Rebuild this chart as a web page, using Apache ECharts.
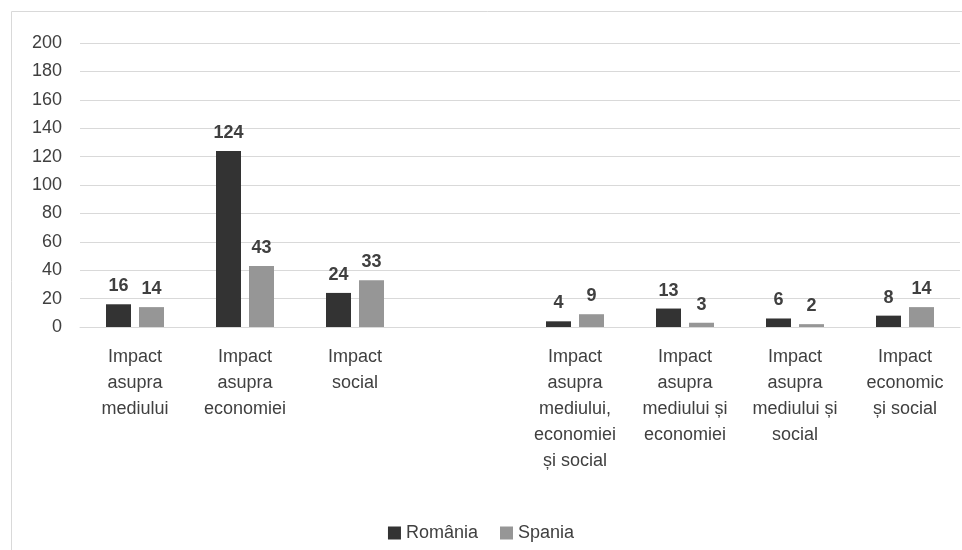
<!DOCTYPE html>
<html><head><meta charset="utf-8">
<script src="https://cdn.jsdelivr.net/npm/echarts@6/dist/echarts.min.js"></script>
<style>html,body{margin:0;padding:0;background:#fff}#c{width:962px;height:550px}</style>
</head><body><div id="c"></div>
<script>
const categories = [
  "Impact\nasupra\nmediului",
  "Impact\nasupra\neconomiei",
  "Impact\nsocial",
  "",
  "Impact\nasupra\nmediului,\neconomiei\nși social",
  "Impact\nasupra\nmediului și\neconomiei",
  "Impact\nasupra\nmediului și\nsocial",
  "Impact\neconomic\nși social"
];
const romania = [16, 124, 24, null, 4, 13, 6, 8];
const spania = [14, 43, 33, null, 9, 3, 2, 14];
const yTicks = { min: 0, max: 200, interval: 20 };

const chart = echarts.init(document.getElementById('c'), null, {renderer: 'canvas'});
const font = 'Liberation Sans, Arial, sans-serif';
const labelStyle = { show: true, position: 'top', distance: 9, fontSize: 18, fontWeight: 'bold', color: '#404040', fontFamily: font };
chart.setOption({
  animation: false,
  textStyle: { fontFamily: font },
  graphic: [{
    type: 'rect', shape: { x: 11.5, y: 11.5, width: 1000, height: 600 },
    style: { fill: 'none', stroke: '#d9d9d9', lineWidth: 1 }, silent: true
  }],
  grid: { left: 80, right: 2, top: 43, bottom: 223 },
  legend: {
    bottom: 3, left: 'center', itemWidth: 13, itemHeight: 13, itemGap: 22,
    icon: 'rect', textStyle: { fontSize: 18, color: '#404040', fontFamily: font },
    data: ['România', 'Spania']
  },
  xAxis: {
    type: 'category', data: categories,
    axisLine: { lineStyle: { color: '#d9d9d9' } },
    axisTick: { show: false },
    axisLabel: { interval: 0, fontSize: 18, color: '#404040', lineHeight: 26, margin: 17, fontFamily: font }
  },
  yAxis: {
    type: 'value', min: yTicks.min, max: yTicks.max, interval: yTicks.interval,
    axisLine: { show: false }, axisTick: { show: false },
    splitLine: { lineStyle: { color: '#d9d9d9' } },
    axisLabel: { fontSize: 18, color: '#404040', margin: 18, fontFamily: font }
  },
  series: [
    { name: 'România', type: 'bar', data: romania, barWidth: 25, barGap: '32%',
      itemStyle: { color: '#333333' }, label: labelStyle },
    { name: 'Spania', type: 'bar', data: spania, barWidth: 25,
      itemStyle: { color: '#969696' }, label: labelStyle }
  ]
});
</script></body></html>
